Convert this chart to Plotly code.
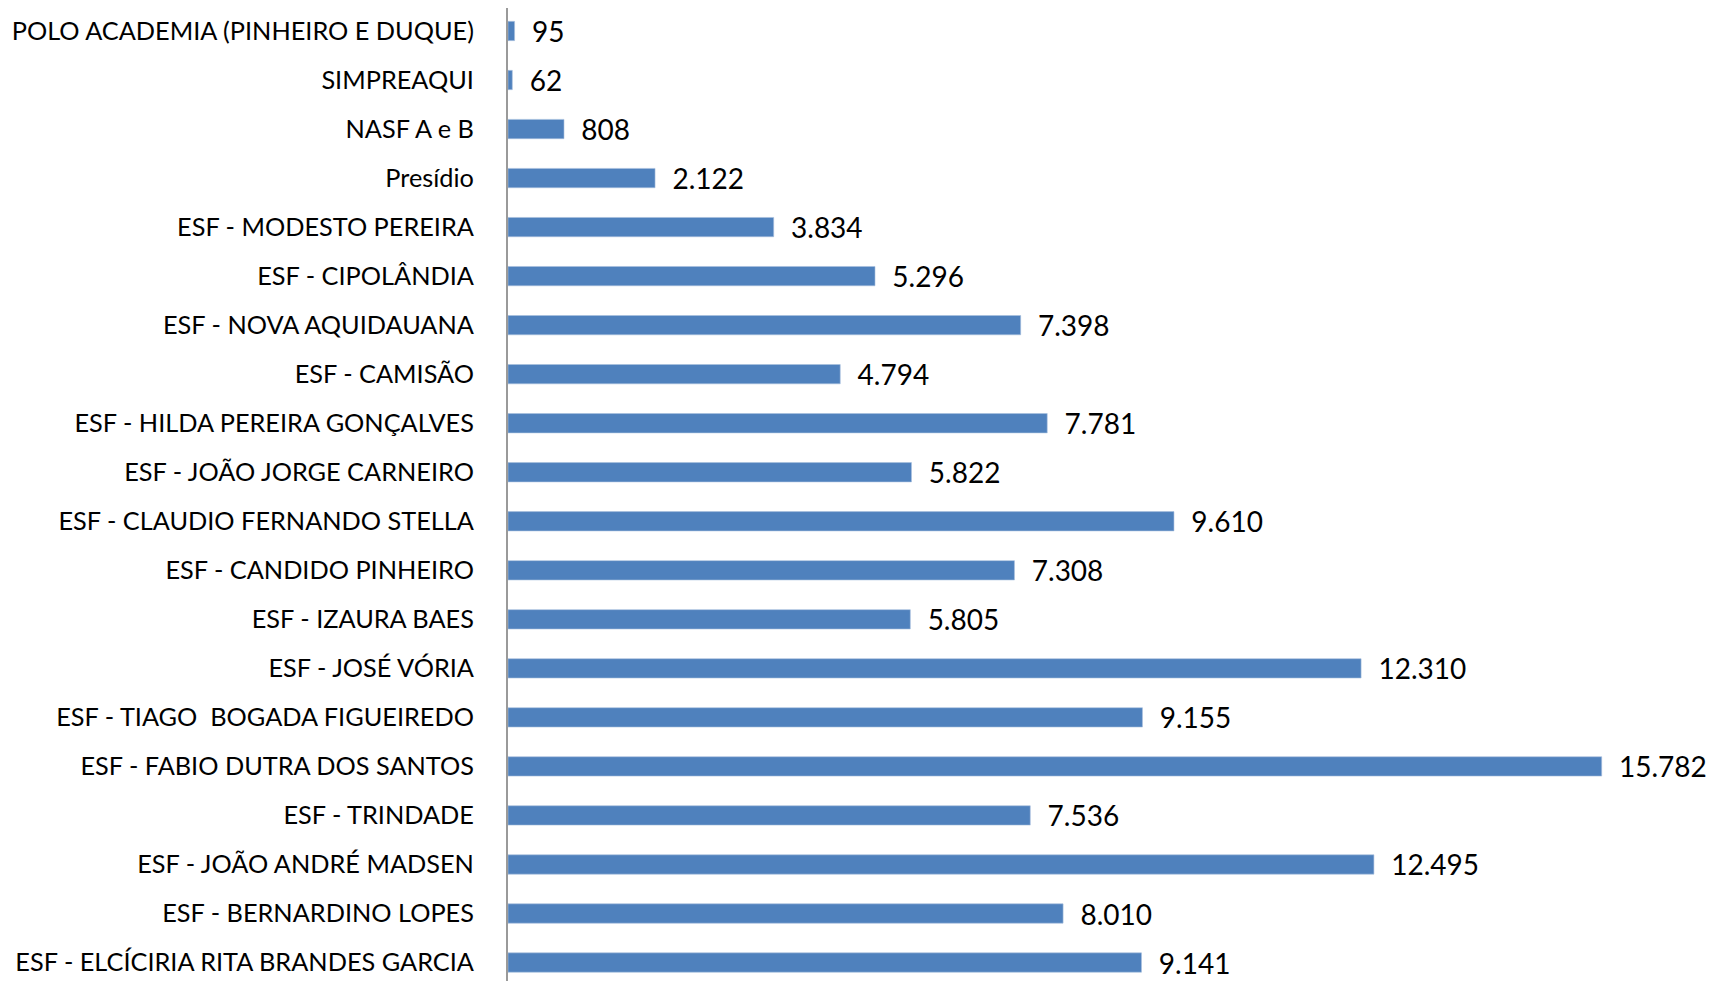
import plotly.graph_objects as go

categories = [
    "POLO ACADEMIA (PINHEIRO E DUQUE)",
    "SIMPREAQUI",
    "NASF A e B",
    "Presídio",
    "ESF - MODESTO PEREIRA",
    "ESF - CIPOLÂNDIA",
    "ESF - NOVA AQUIDAUANA",
    "ESF - CAMISÃO",
    "ESF - HILDA PEREIRA GONÇALVES",
    "ESF - JOÃO JORGE CARNEIRO",
    "ESF - CLAUDIO FERNANDO STELLA",
    "ESF - CANDIDO PINHEIRO",
    "ESF - IZAURA BAES",
    "ESF - JOSÉ VÓRIA",
    "ESF - TIAGO  BOGADA FIGUEIREDO",
    "ESF - FABIO DUTRA DOS SANTOS",
    "ESF - TRINDADE",
    "ESF - JOÃO ANDRÉ MADSEN",
    "ESF - BERNARDINO LOPES",
    "ESF - ELCÍCIRIA RITA BRANDES GARCIA",
]
values = [95, 62, 808, 2122, 3834, 5296, 7398, 4794, 7781, 5822,
          9610, 7308, 5805, 12310, 9155, 15782, 7536, 12495, 8010, 9141]

fig = go.Figure(go.Bar(
    x=values,
    y=categories,
    orientation="h",
    marker=dict(color="#4F81BD", line=dict(color="#A7C0DE", width=0.6)),
    texttemplate="  %{x:,}",
    textposition="outside",
    constraintext="none",
    cliponaxis=False,
    textfont=dict(family="Lato", size=28, color="#000000"),
    hoverinfo="skip",
))

fig.update_layout(
    template="none",
    width=1721,
    height=981,
    margin=dict(l=500, r=0, t=0, b=0, pad=0),
    paper_bgcolor="white",
    plot_bgcolor="white",
    separators=",.",
    bargap=0.606,
    showlegend=False,
    font=dict(family="Lato", color="#000000"),
)
fig.update_xaxes(
    range=[0, 17619],
    visible=False,
    showgrid=False,
    zeroline=False,
    automargin=False,
)
fig.update_yaxes(
    type="category",
    categoryorder="array",
    categoryarray=categories,
    range=[19.54, -0.469],
    showline=True,
    linecolor="#9A9A9A",
    linewidth=2,
    showgrid=False,
    zeroline=False,
    ticks="",
    ticklabelstandoff=27,
    tickfont=dict(family="Lato", size=25.3, color="#000000"),
    automargin=False,
)

fig.write_html("out.html")
